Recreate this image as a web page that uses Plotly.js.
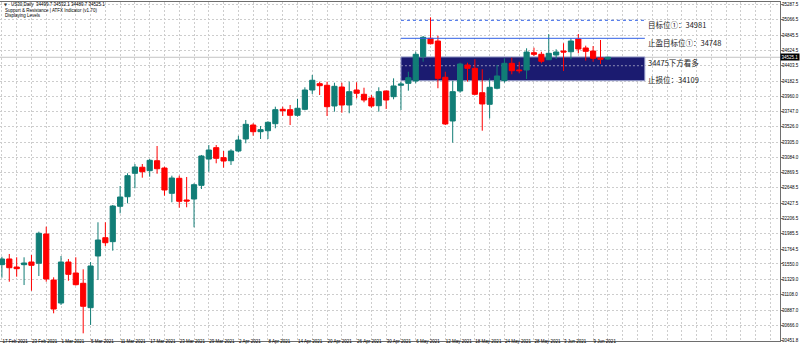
<!DOCTYPE html>
<html><head><meta charset="utf-8">
<script src="https://cdn.plot.ly/plotly-3.0.1.min.js"></script>
<style>html,body{margin:0;padding:0;background:#fff;overflow:hidden}#chart{width:800px;height:351px}</style>
</head><body><div id="chart"></div>
<script>
const dates = [
'17 Feb 2021','18 Feb 2021','19 Feb 2021','22 Feb 2021','23 Feb 2021','24 Feb 2021','25 Feb 2021','26 Feb 2021',
'1 Mar 2021','2 Mar 2021','3 Mar 2021','4 Mar 2021','5 Mar 2021','8 Mar 2021','9 Mar 2021','10 Mar 2021','11 Mar 2021','12 Mar 2021',
'15 Mar 2021','16 Mar 2021','17 Mar 2021','18 Mar 2021','19 Mar 2021','22 Mar 2021','23 Mar 2021','24 Mar 2021','25 Mar 2021','26 Mar 2021',
'29 Mar 2021','30 Mar 2021','31 Mar 2021',
'1 Apr 2021','2 Apr 2021','5 Apr 2021','6 Apr 2021','7 Apr 2021','8 Apr 2021','9 Apr 2021','12 Apr 2021','13 Apr 2021','14 Apr 2021',
'15 Apr 2021','16 Apr 2021','19 Apr 2021','20 Apr 2021','21 Apr 2021','22 Apr 2021','23 Apr 2021','26 Apr 2021','27 Apr 2021','28 Apr 2021',
'29 Apr 2021','30 Apr 2021',
'3 May 2021','4 May 2021','5 May 2021','6 May 2021','7 May 2021','10 May 2021','11 May 2021','12 May 2021','13 May 2021','14 May 2021',
'17 May 2021','18 May 2021','19 May 2021','20 May 2021','21 May 2021','24 May 2021','25 May 2021','26 May 2021','27 May 2021','28 May 2021',
'31 May 2021',
'1 Jun 2021','2 Jun 2021','3 Jun 2021','4 Jun 2021','7 Jun 2021','8 Jun 2021','9 Jun 2021','10 Jun 2021','11 Jun 2021'];

const openP = [31540,31622,31506,31540,31578,31560,31981,31319,
30988,31578,31420,31272,30921,31665,31928,31871,32380,32518,
32855,32942,32893,33036,32931,32567,32783,32471,32485,32682,
33060,33224,33080,
33036,33176,33349,33550,33454,33468,33569,33776,33771,33690,
33776,34054,34145,34122,33824,34097,33838,34054,33992,33939,
33828,34040,
33958,34122,34150,34184,34533,34798,34759,34237,33608,34040,
34414,34366,34015,33848,34079,34188,34438,34342,34342,34591,
34568,
34490,34558,34615,34605,34788,34659,34615,34515,34499.7];
const highP = [31655,31694,31646,31646,31679,32015,32087,31358,
31665,31622,31646,31473,31578,32150,32150,32399,32672,32855,
32989,32989,33061,33248,32950,32821,32821,32802,32711,33119,
33262,33262,33176,
33201,33396,33622,33575,33536,33604,33814,33814,33838,33925,
34093,34270,34174,34174,34159,34159,34174,34165,34087,33982,
34093,34044,
34222,34169,34317,34605,34831,35100,34836,34317,34188,34447,
34447,34496,34352,34222,34414,34510,34519,34461,34654,34663,
34605,
34856,34640,34726,34798,34860,34692,34687,34774,34532.1];
const lowP = [31353,31295,31367,31247,31165,31377,31295,30840,
30960,31309,31240,30552,30672,31319,31809,31741,32279,32423,
32639,32792,32806,32849,32533,32438,32360,32366,32078,32629,
32878,32999,32936,
32975,33157,33287,33396,33349,33349,33503,33680,33550,33670,
33762,33997,33982,33680,33742,33727,33719,33935,33877,33799,
33742,33781,
33920,33766,34044,34150,34461,34710,34079,33550,33296,34015,
34174,33980,33468,33647,34064,34159,34280,34294,34212,34543,
34438,
34486,34500,34328,34496,34582,34476,34461,34428,34489.7];
const closeP = [31622,31496,31482,31564,31531,31992,31334,30902,
31578,31401,31252,30941,31521,31895,31856,32384,32514,32821,
32946,32878,33042,32921,32615,32787,32452,32456,32691,33104,
33190,33071,33032,
33176,33334,33560,33454,33483,33589,33771,33756,33690,33791,
34054,34194,34116,33814,34107,33838,34030,34007,33910,33824,
34030,33910,
34112,34140,34231,34568,34813,34720,34222,33565,34030,34428,
34366,33992,33853,34093,34256,34438,34332,34332,34601,34568,
34467,
34582,34601,34601,34759,34644,34611,34510,34496,34525.1];

const xTickLabels = ['17 Feb 2021','23 Feb 2021','1 Mar 2021','5 Mar 2021','11 Mar 2021','17 Mar 2021','23 Mar 2021',
'29 Mar 2021','2 Apr 2021','8 Apr 2021','14 Apr 2021','20 Apr 2021','26 Apr 2021','30 Apr 2021','6 May 2021',
'12 May 2021','18 May 2021','24 May 2021','28 May 2021','3 Jun 2021','9 Jun 2021'];
const yTickLabels = ['35287.5','35066.5','34845.5','34624.5','34403.5','34182.5','33960.0','33747.0','33526.0',
'33305.0','33084.0','32869.5','32648.5','32427.5','32206.5','31985.5','31764.5','31550.0','31329.0','31108.0',
'30887.0','30666.0','30451.8'];

const headerLines = ['US30,Daily  34499.7 34532.1 34489.7 34525.1','Support & Resistance | ATFX Indicator (v1.70)','Displaying Levels'];
const lastPrice = 34525.1;
const targetLine = 35057;
const takeProfitLine = 34798;
const zoneLow = 34188, zoneHigh = 34530;
const levelTexts = ['目标位①：34981','止盈目标位①：34748','34475下方看多','止损位：34109'];
const levelTextPrices = [34994, 34740, 34457, 34212];
const zoneStartDate = '4 May 2021';

const xIdx = dates.map((d, i) => i);
const lastIdx = dates.length - 1;
const zoneX0 = dates.indexOf(zoneStartDate);
const zoneX1 = lastIdx + 5;

const gridVals = [], gridText = [];
for (let v = 0; v <= 106; v += 2) {
  gridVals.push(v);
  const lbl = xTickLabels.find(l => dates.indexOf(l) === v);
  gridText.push(lbl || '');
}
const zoneGrid = yTickLabels.map(Number).filter(v => v > zoneLow && v < zoneHigh);

const trace = {
  type: 'candlestick', x: xIdx, open: openP, high: highP, low: lowP, close: closeP,
  increasing: {line: {color: '#117d76', width: 1}, fillcolor: '#117d76'},
  decreasing: {line: {color: '#ff0000', width: 1}, fillcolor: '#ff0000'},
  whiskerwidth: 0, hoverinfo: 'skip', showlegend: false
};

const tickFont = {family: 'Liberation Sans, Arial, sans-serif', size: 4.5, color: '#000'};
const plotTop = 2, plotH = 339;
function paperY(px) { return 1 - (px - plotTop) / plotH; }

const annotations = [];
annotations.push({xref:'paper', yref:'paper', x:0.002, y:paperY(4.6), xanchor:'left', yanchor:'middle',
  text:'▼', showarrow:false, font:{family:'DejaVu Sans', size:4, color:'#333'}});
headerLines.forEach((t, i) => {
  annotations.push({xref:'paper', yref:'paper', x: i === 0 ? 0.011 : 0.004, y: paperY(4.7 + i * 5.4),
    xanchor:'left', yanchor:'middle', text:t, showarrow:false, font:tickFont});
});
levelTexts.forEach((t, i) => {
  annotations.push({xref:'x', yref:'y', x: zoneX1 + 0.1, y: levelTextPrices[i], xanchor:'left', yanchor:'middle',
    text:t, showarrow:false, font:{family:'Noto Sans CJK SC, sans-serif', size:7.5, color:'#1a1a1a'}});
});
annotations.push({xref:'paper', yref:'y', x:1, y:lastPrice, xanchor:'left', yanchor:'middle',
  text:String(lastPrice), showarrow:false, bgcolor:'#000', borderpad:0.6,
  font:{family:'Liberation Sans, Arial, sans-serif', size:4.5, color:'#fff'}});

const shapes = [
  {type:'rect', xref:'x', yref:'y', x0:zoneX0, x1:zoneX1, y0:zoneLow, y1:zoneHigh,
   fillcolor:'#1b1b70', line:{color:'#9aa0cc', width:1}, layer:'between'}
];
zoneGrid.forEach(v => shapes.push({type:'line', xref:'x', yref:'y', x0:zoneX0, x1:zoneX1, y0:v, y1:v,
  line:{color:'#8c8cb4', width:1, dash:'2px,2px'}, layer:'between'}));
shapes.push(
  {type:'line', xref:'paper', yref:'y', x0:0, x1:1, y0:lastPrice, y1:lastPrice,
   line:{color:'#c4c4c4', width:1}, layer:'between'},
  {type:'line', xref:'x', yref:'y', x0:zoneX0, x1:zoneX1, y0:targetLine, y1:targetLine,
   line:{color:'#2f5fe6', width:1, dash:'dot'}},
  {type:'line', xref:'x', yref:'y', x0:zoneX0, x1:zoneX1, y0:takeProfitLine, y1:takeProfitLine,
   line:{color:'#2f5fe6', width:1}}
);

const layout = {
  width: 800, height: 351,
  margin: {l: 0, r: 20, t: plotTop, b: 10, pad: 0},
  paper_bgcolor: '#fff', plot_bgcolor: '#fff',
  showlegend: false, boxgap: 0.3, boxgroupgap: 0,
  xaxis: {
    type: 'linear', range: [-0.257, 105.29], rangeslider: {visible: false},
    tickmode: 'array', tickvals: gridVals, ticktext: gridText, tickangle: 0, automargin: false,
    ticks: '', ticklabelposition: 'outside right', ticklabelstandoff: -4, tickfont: tickFont,
    showgrid: true, gridcolor: '#cdcdcd', griddash: '2px,2px', gridwidth: 1,
    zeroline: false, showline: true, linecolor: '#6e6e6e', linewidth: 1, mirror: true,
    fixedrange: true
  },
  yaxis: {
    side: 'right', range: [30441.4, 35320.6], automargin: false,
    tickmode: 'array', tickvals: yTickLabels.map(Number), ticktext: yTickLabels,
    ticks: 'outside', ticklen: 2, tickcolor: '#6e6e6e', tickfont: tickFont, ticklabelstandoff: -2,
    showgrid: true, gridcolor: '#cdcdcd', griddash: '2px,2px', gridwidth: 1,
    zeroline: false, showline: true, linecolor: '#6e6e6e', linewidth: 1, mirror: true,
    fixedrange: true
  },
  shapes: shapes, annotations: annotations, hovermode: false
};

Plotly.newPlot('chart', [trace], layout, {displayModeBar: false, staticPlot: true});
</script></body></html>
